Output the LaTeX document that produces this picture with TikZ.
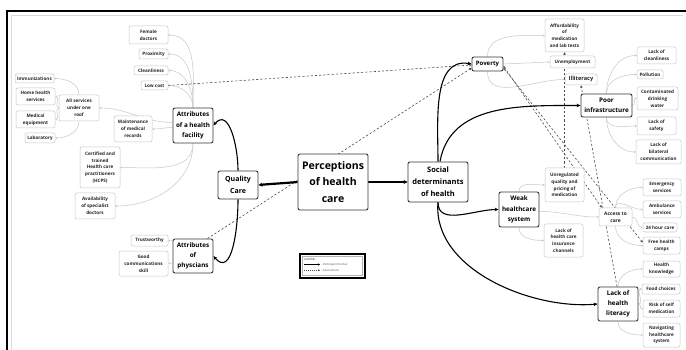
\documentclass[tikz,border=0pt]{standalone}
\usepackage{fontspec}
\setmainfont{Open Sans}
\usetikzlibrary{arrows.meta}
\pgfdeclarelayer{back}
\pgfdeclarelayer{bg}
\pgfsetlayers{back,bg,main}
\begin{document}
\begin{tikzpicture}[x=1pt,y=-1pt,
  wh/.style 2 args={minimum width=#1pt,minimum height=#2pt},
  base/.style={fill=white,align=center,inner sep=0.5pt,rounded corners=2pt},
  subn/.style={base,draw=black!22,line width=0.5pt,text=black!85,font=\bfseries\fontsize{4.6}{6.8}\selectfont},
  themen/.style={base,draw=black!78,line width=0.9pt,text=black,font=\bfseries\fontsize{6.3}{10.2}\selectfont},
  subl/.style={draw=black!22,line width=0.5pt,-{Stealth[length=2pt,width=2pt]}},
  thick/.style={draw=black,line width=1.1pt,-{Stealth[length=4pt,width=3.5pt]}},
  vthick/.style={draw=black,line width=2.2pt,-{Stealth[length=4pt,width=4pt]}},
  assoc/.style={draw=black!70,line width=0.6pt,dash pattern=on 2.2pt off 2pt,-{Stealth[length=2.5pt,width=2.5pt]}},
  assoc2/.style={assoc,{Stealth[length=2.5pt,width=2.5pt]}-{Stealth[length=2.5pt,width=2.5pt]}}
]
\useasboundingbox (0,0) rectangle (686,350);
\begin{pgfonlayer}{back}
\fill[white] (0,0) rectangle (686,350);
\end{pgfonlayer}
% frame
\draw[black!15,line width=0.8pt] (11,350) -- (11,15.5) -- (683,15.5);
\draw[black,line width=2pt] (7,350) -- (7,11) -- (686,11);

% ---------- left cluster ----------
\node[subn,wh={39}{18}] (fem) at (148.5,35) {Female\\doctors};
\node[subn,wh={29}{10}] (prox) at (153.5,54) {Proximity};
\node[subn,wh={34}{9}] (clean) at (151,70.5) {Cleanliness};
\node[subn,wh={27}{9}] (low) at (154.5,85.5) {Low cost};
\node[subn,wh={39}{9}] (imm) at (34.5,78.5) {Immunizations};
\node[subn,wh={39}{17}] (home) at (35.5,96.5) {Home health\\services};
\node[subn,wh={39}{17}] (meq) at (35.5,119.5) {Medical\\equipment};
\node[subn,wh={30}{10}] (lab) at (40,138) {Laboratory};
\node[subn,wh={40}{26}] (allsv) at (79,108) {All services\\under one\\roof};
\node[subn,wh={38}{26}] (maint) at (133,129) {Maintenance\\of medical\\records};
\node[themen,wh={40}{35}] (attrf) at (193,125.5) {Attributes\\of a health\\facility};
\node[subn,wh={40}{41}] (cert) at (100,167.5) {Certified and\\trained\\Health care\\practitioners\\(HCPS)};
\node[subn,wh={40}{26}] (avail) at (95,206) {Availability\\of specialist\\doctors};
\node[subn,wh={37}{11}] (trust) at (149.5,240.5) {Trustworthy};
\node[subn,wh={49}{25}] (good) at (143.5,263.5) {Good\\communications\\skill};
\node[themen,wh={40}{34}] (attrp) at (193,256) {Attributes\\of\\physcians};
\node[themen,wh={40}{28},font=\bfseries\fontsize{7}{12}\selectfont] (qc) at (238,185) {Quality\\Care};
\node[themen,wh={70}{56},font=\bfseries\fontsize{10.5}{16.5}\selectfont] (perc) at (333,182) {Perceptions\\of health\\care};
\node[themen,wh={60}{40},font=\bfseries\fontsize{7.5}{12}\selectfont] (soc) at (438,182) {Social\\determinants\\of health};

% ---------- right cluster ----------
\node[themen,wh={31}{14},font=\bfseries\fontsize{6}{8}\selectfont] (pov) at (487.5,64) {Poverty};
\node[subn,wh={39}{33}] (aff) at (564.5,35.5) {Affordability\\of\\medication\\and lab tests};
\node[subn,wh={45}{12}] (unemp) at (572.5,62) {Unemployment};
\node[subn,wh={32}{11},font=\bfseries\fontsize{5.6}{7}\selectfont] (illit) at (581,79.5) {Illiteracy};
\node[themen,wh={51}{23}] (poor) at (606.5,105.5) {Poor\\infrastructure};
\node[subn,wh={39}{17}] (lclean) at (656.5,55.5) {Lack of\\cleanliness};
\node[subn,wh={26}{9}] (poll) at (650,74.5) {Pollution};
\node[subn,wh={41}{23}] (cont) at (657.5,98.5) {Contaminated\\drinking\\water};
\node[subn,wh={39}{18}] (lsafe) at (656.5,126) {Lack of\\safety};
\node[subn,wh={45}{24}] (lbil) at (658.5,152) {Lack of\\bilateral\\communication};
\node[subn,wh={39}{34}] (unreg) at (564.5,185) {Unregulated\\quality and\\pricing of\\medication};
\node[themen,wh={40}{35}] (weak) at (519,209.5) {Weak\\healthcare\\system};
\node[subn,wh={33}{18},font=\bfseries\fontsize{4.9}{7.2}\selectfont] (access) at (615.5,217) {Access to\\care};
\node[subn,wh={38}{17}] (emerg) at (662,187.5) {Emergency\\services};
\node[subn,wh={38}{17}] (amb) at (662,209.5) {Ambulance\\services};
\node[subn,wh={34}{9}] (h24) at (660,227.5) {24 hour care};
\node[subn,wh={37}{17}] (free) at (661.5,245.5) {Free health\\camps};
\node[subn,wh={39}{33}] (ins) at (563.5,240.5) {Lack of\\health care\\insurance\\channels};
\node[subn,wh={37}{16}] (hk) at (661.5,269) {Health\\knowledge};
\node[subn,wh={38}{10}] (food) at (661,289) {Food choices};
\node[subn,wh={37}{17}] (risk) at (661.5,308.5) {Risk of self\\medication};
\node[subn,wh={37}{24}] (nav) at (661.5,335) {Navigating\\healthcare\\system};
\node[themen,wh={40}{34}] (lhl) at (618,304) {Lack of\\health\\literacy};

% ---------- legend ----------
\node[draw=black,line width=1.4pt,fill=white,wh={65}{24},inner sep=0] (legend) at (332.5,266) {};
\node[draw=black!30,line width=0.4pt,wh={60}{19},inner sep=0] (legin) at (legend.center) {};
\node[anchor=west,inner sep=0,text=black!75,font=\fontsize{2.8}{3}\selectfont] (lgt) at (304,259.5) {LEGEND:};
\coordinate (la1) at (304,264.5);
\coordinate (lb1) at (320,264.5);
\coordinate (la2) at (304,270.3);
\coordinate (lb2) at (320,270.3);
\draw[black,line width=0.5pt,-{Stealth[length=2pt,width=2pt]}] (la1) -- (lb1);
\draw[black!70,line width=0.4pt,dash pattern=on 1pt off 1pt,-{Stealth[length=2pt,width=2pt]}] (la2) -- (lb2);
\node[anchor=west,inner sep=0,text=black!70,font=\fontsize{2.8}{3}\selectfont] (lt1) at (321,264.5) {- Participant themes};
\node[anchor=west,inner sep=0,text=black!70,font=\fontsize{2.8}{3}\selectfont] (lt2) at (321,270.3) {- Associations};

% ---------- connectors ----------
\begin{pgfonlayer}{bg}
% attributes of facility
\draw[subl] (attrf.north) to[out=90,in=0] (fem.east);
\draw[subl] (attrf.north) to[out=90,in=0] (prox.east);
\draw[subl] (attrf.north) to[out=90,in=0] (clean.east);
\draw[subl] (attrf.north) to[out=90,in=0] (low.east);
\draw[subl] ([yshift=3pt]attrf.west) to[out=180,in=0] (allsv.east);
\draw[subl] ([yshift=-2pt]attrf.west) to[out=180,in=0] (maint.east);
\draw[subl] (attrf.south) to[out=-90,in=0] (cert.east);
\draw[subl] (attrf.south) to[out=-90,in=0] (avail.east);
% all services
\draw[subl] (allsv.north) to[out=90,in=0] (imm.east);
\draw[subl] (allsv.west) to[out=180,in=0] (home.east);
\draw[subl] (allsv.west) to[out=180,in=0] (meq.east);
\draw[subl] (allsv.south) to[out=-90,in=0] (lab.east);
% physicians
\draw[subl] ([yshift=15pt]attrp.west) -- (trust.east);
\draw[subl] ([yshift=-7pt]attrp.west) -- (good.east);
% poverty
\draw[subl] (pov.north) to[out=90,in=180] (aff.west);
\draw[subl] (pov.east) -- (unemp.west);
\draw[subl] (pov.south) to[out=-90,in=180] (illit.west);
% poor infrastructure
\draw[subl] (poor.north) to[out=90,in=180] (lclean.west);
\draw[subl] (poor.north) to[out=90,in=180] (poll.west);
\draw[subl] (poor.east) to[out=0,in=180] (cont.west);
\draw[subl] (poor.south) to[out=-90,in=180] (lsafe.west);
\draw[subl] (poor.south) to[out=-90,in=180] (lbil.west);
% weak
\draw[subl] (weak.north) to[out=90,in=180] (unreg.west);
\draw[subl] ([yshift=-2pt]weak.east) to[out=0,in=180] (access.west);
\draw[subl] (weak.south) to[out=-90,in=180] (ins.west);
% access
\draw[subl] (access.north) to[out=90,in=180] (emerg.west);
\draw[subl] (access.north) to[out=90,in=180] (amb.west);
\draw[subl] (access.east) to[out=0,in=180] (h24.west);
\draw[subl] (access.south) to[out=-90,in=180] (free.west);
% literacy
\draw[subl] (lhl.north) to[out=90,in=180] (hk.west);
\draw[subl] (lhl.east) to[out=0,in=180] (food.west);
\draw[subl] (lhl.east) to[out=0,in=180] (risk.west);
\draw[subl] (lhl.south) to[out=-90,in=180] (nav.west);

% associations
\draw[assoc] (low.east) -- ([yshift=-1pt]pov.west);
\draw[assoc] ([xshift=-6pt]attrp.north east) -- ([yshift=-4pt]pov.west);
\draw[assoc2] ([yshift=-2pt]pov.east) -- ([xshift=3pt]access.north west);
\draw[assoc2] ([yshift=-4pt]pov.east) -- ([yshift=3pt]free.west);
\draw[assoc] (unreg.north) -- (aff.south);
\draw[assoc] ([xshift=-1pt]lhl.north) -- (illit.south);

% participant themes
\draw[vthick] (perc.west) to[out=185,in=5] (qc.east);
\draw[vthick] (perc.east) -- (soc.west);
\draw[thick] (qc.north) to[out=90,in=50,looseness=1.2] (attrf.east);
\draw[thick] (qc.south) to[out=-90,in=-50,looseness=1.2] (attrp.east);
\draw[thick] (soc.north) to[out=90,in=170] (pov.west);
\draw[thick] ([xshift=2pt]soc.north) to[out=80,in=180] (poor.west);
\draw[thick] (soc.south) to[out=-90,in=180] (weak.west);
\draw[thick] (soc.south) to[out=-95,in=185,looseness=0.9] (lhl.west);
\end{pgfonlayer}
\end{tikzpicture}
\end{document}
